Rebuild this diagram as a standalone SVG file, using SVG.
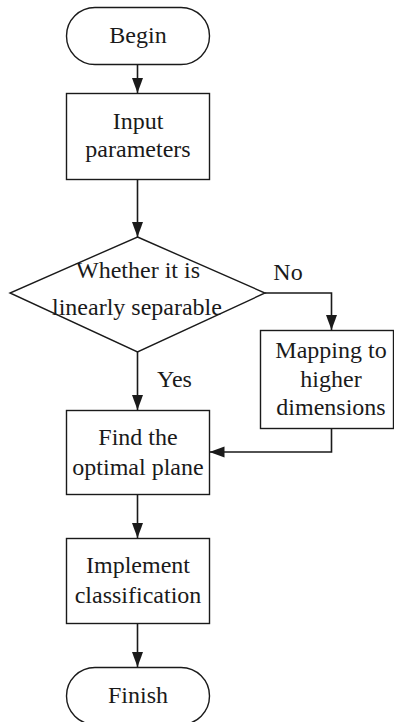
<svg xmlns="http://www.w3.org/2000/svg" width="394" height="722" viewBox="0 0 394 722">
<style>
.s{fill:#fff;stroke:#1a1a1a;stroke-width:1.4}
.t{font-family:"Liberation Serif","Times New Roman",serif;font-size:24px;fill:#1a1a1a;text-anchor:middle}
.c{fill:none;stroke:#1a1a1a;stroke-width:1.6}
</style>
<defs>
<marker id="a" markerUnits="userSpaceOnUse" markerWidth="16" markerHeight="12" refX="15" refY="6" orient="auto">
<path d="M0,0.5 L15,6 L0,11.5 z" fill="#1a1a1a"/>
</marker>
</defs>
<rect width="394" height="722" fill="#fff"/>
<g id="connectors">
<path class="c" d="M137.5,65 V93" marker-end="url(#a)"/>
<path class="c" d="M137.5,180 V237" marker-end="url(#a)"/>
<path class="c" d="M137.5,352 V410" marker-end="url(#a)"/>
<path class="c" d="M265,293 H331.5 V330" marker-end="url(#a)"/>
<path class="c" d="M331.5,429 V452 H209.5" marker-end="url(#a)"/>
<path class="c" d="M137.5,495 V538" marker-end="url(#a)"/>
<path class="c" d="M137.5,624 V667" marker-end="url(#a)"/>
<text class="t" x="288" y="280">No</text>
<text class="t" x="157" y="387" style="text-anchor:start">Yes</text>
</g>
<g id="begin">
<rect class="s" x="66.5" y="7.5" width="143" height="57" rx="28.5"/>
<text class="t" x="138" y="43">Begin</text>
</g>
<g id="input">
<rect class="s" x="66.5" y="93.5" width="143" height="86"/>
<text class="t" x="138" y="129">Input</text>
<text class="t" x="138" y="157">parameters</text>
</g>
<g id="decision">
<polygon class="s" points="137.5,237 265,293 137.5,352 10,293"/>
<text class="t" x="138" y="278">Whether it is</text>
<text class="t" x="137" y="315">linearly separable</text>
</g>
<g id="mapping">
<rect class="s" x="260.5" y="330.5" width="133" height="98"/>
<text class="t" x="331" y="358">Mapping to</text>
<text class="t" x="331" y="387">higher</text>
<text class="t" x="331" y="415">dimensions</text>
</g>
<g id="find">
<rect class="s" x="66.5" y="410.5" width="143" height="84"/>
<text class="t" x="138" y="445">Find the</text>
<text class="t" x="138" y="475">optimal plane</text>
</g>
<g id="implement">
<rect class="s" x="66.5" y="538.5" width="143" height="85"/>
<text class="t" x="138" y="573">Implement</text>
<text class="t" x="138" y="603">classification</text>
</g>
<g id="finish">
<rect class="s" x="66.5" y="667.5" width="143" height="57" rx="28.5"/>
<text class="t" x="138" y="703">Finish</text>
</g>
</svg>
